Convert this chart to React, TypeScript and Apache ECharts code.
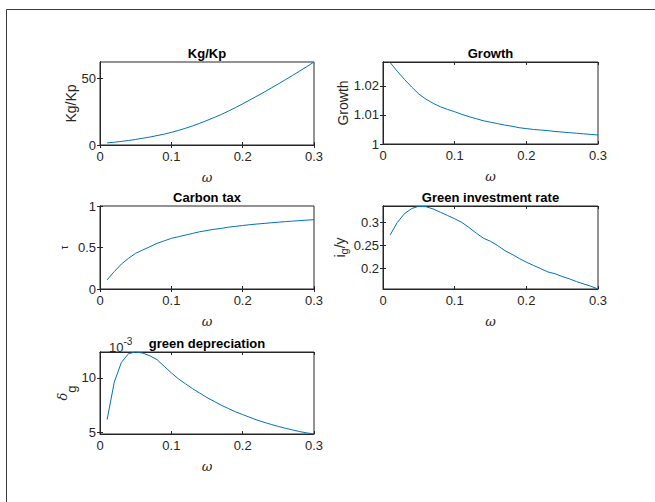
import React, { useEffect, useRef } from "react";
import * as echarts from "echarts";

const omega = [
  0.01, 0.02, 0.03, 0.04, 0.05, 0.06, 0.07, 0.08, 0.09, 0.1,
  0.11, 0.12, 0.13, 0.14, 0.15, 0.16, 0.17, 0.18, 0.19, 0.2,
  0.21, 0.22, 0.23, 0.24, 0.25, 0.26, 0.27, 0.28, 0.29, 0.3,
];

const kgKp = [
  1.6, 2.1, 2.7, 3.4, 4.2, 5.1, 6.0, 7.1, 8.2, 9.5,
  11.0, 12.6, 14.4, 16.4, 18.5, 20.7, 23.0, 25.5, 28.2, 31.0,
  33.9, 36.8, 39.8, 42.9, 46.0, 49.2, 52.4, 55.7, 59.0, 62.5,
];

const growth = [
  1.028, 1.025, 1.0222, 1.0196, 1.0172, 1.0154, 1.014, 1.0128, 1.0119, 1.0111,
  1.0102, 1.0094, 1.0087, 1.008, 1.0075, 1.007, 1.0065, 1.0061, 1.0056, 1.0053,
  1.005, 1.0048, 1.0046, 1.0043, 1.0041, 1.0039, 1.0037, 1.0035, 1.0033, 1.0031,
];

const carbonTax = [
  0.11, 0.21, 0.3, 0.37, 0.43, 0.47, 0.51, 0.55, 0.58, 0.61,
  0.63, 0.65, 0.67, 0.69, 0.705, 0.72, 0.73, 0.745, 0.755, 0.765,
  0.775, 0.783, 0.79, 0.798, 0.805, 0.812, 0.818, 0.824, 0.83, 0.835,
];

const greenInvestmentRate = [
  0.273, 0.3, 0.319, 0.33, 0.335, 0.334, 0.329, 0.322, 0.315, 0.308,
  0.3, 0.289, 0.277, 0.266, 0.259, 0.25, 0.239, 0.231, 0.222, 0.214,
  0.207, 0.2, 0.193, 0.189, 0.183, 0.178, 0.172, 0.167, 0.162, 0.156,
];

const greenDepreciation = [
  0.0062, 0.0096, 0.0114, 0.0122, 0.01235, 0.01225, 0.012, 0.01165, 0.01105, 0.01045,
  0.0099, 0.00945, 0.009, 0.0086, 0.0082, 0.00785, 0.0075, 0.0072, 0.0069, 0.00665,
  0.0064, 0.00615, 0.00595, 0.00575, 0.00557, 0.0054, 0.00525, 0.0051, 0.00498, 0.00488,
];

const xTickLabels = ["0", "0.1", "0.2", "0.3"];
const kgTicks = [0, 50];
const growthTicks = [1, 1.01, 1.02];
const taxTicks = [0, 0.5, 1];
const invTicks = [0.2, 0.25, 0.3];
const depTicks = [0.005, 0.01];

const AX = "#262626";
const FONT = "'Liberation Sans', Arial, Helvetica, sans-serif";

type Panel = {
  title: string;
  values: number[];
  grid: { left: number; top: number; width: number; height: number };
  ymin: number;
  ymax: number;
  ticks: number[];
  fmt: (v: number) => string;
  yName: string;
  yGap: number;
  yFont: number;
  rich?: any;
};

export default function App() {
  const ref = useRef<HTMLDivElement>(null);

  useEffect(() => {
    if (!ref.current) return;
    const chart = echarts.init(ref.current, undefined, { renderer: "svg" });

    const panels: Panel[] = [
      {
        title: "Kg/Kp",
        values: kgKp,
        grid: { left: 100, top: 62, width: 214, height: 83 },
        ymin: 0,
        ymax: 62.5,
        ticks: kgTicks,
        fmt: (v) => String(v),
        yName: "Kg/Kp",
        yGap: 21,
        yFont: 14,
      },
      {
        title: "Growth",
        values: growth,
        grid: { left: 383, top: 62, width: 215, height: 82 },
        ymin: 1,
        ymax: 1.0282,
        ticks: growthTicks,
        fmt: (v) => (v === 1 ? "1" : v.toFixed(2)),
        yName: "Growth",
        yGap: 33,
        yFont: 14,
      },
      {
        title: "Carbon tax",
        values: carbonTax,
        grid: { left: 100, top: 206, width: 214, height: 83 },
        ymin: 0,
        ymax: 1,
        ticks: taxTicks,
        fmt: (v) => String(v),
        yName: "τ",
        yGap: 31,
        yFont: 10,
      },
      {
        title: "Green investment rate",
        values: greenInvestmentRate,
        grid: { left: 383, top: 206, width: 215, height: 83 },
        ymin: 0.156,
        ymax: 0.3355,
        ticks: invTicks,
        fmt: (v) => String(v),
        yName: "{a|i}{s|g}{a|/y}",
        yGap: 34,
        yFont: 14,
        rich: {
          a: { fontSize: 14, fontFamily: FONT, color: AX, lineHeight: 19, verticalAlign: "middle" },
          s: { fontSize: 11, fontFamily: FONT, color: AX, lineHeight: 11, verticalAlign: "bottom" },
        },
      },
      {
        title: "green depreciation",
        values: greenDepreciation,
        grid: { left: 100, top: 352, width: 214, height: 82 },
        ymin: 0.00488,
        ymax: 0.01235,
        ticks: depTicks,
        fmt: (v) => String(Math.round(v * 1000)),
        yName: "{d|δ}{s|g}",
        yGap: 22,
        yFont: 14,
        rich: {
          d: { fontSize: 13, fontFamily: "'DejaVu Serif', serif", fontStyle: "italic", color: AX, lineHeight: 22, verticalAlign: "top" },
          s: { fontSize: 13, fontFamily: FONT, color: AX, lineHeight: 13, verticalAlign: "bottom" },
        },
      },
    ];

    const grids: any[] = [];
    const xAxes: any[] = [];
    const yAxes: any[] = [];
    const series: any[] = [];
    const graphics: any[] = [];

    graphics.push({
      type: "line",
      shape: { x1: 6.5, y1: 9.5, x2: 655, y2: 9.5 },
      style: { stroke: "#3a3a3a", lineWidth: 1 },
      silent: true,
      z: 100,
    });
    graphics.push({
      type: "line",
      shape: { x1: 6.5, y1: 9.5, x2: 6.5, y2: 502 },
      style: { stroke: "#3a3a3a", lineWidth: 1 },
      silent: true,
      z: 100,
    });

    panels.forEach((p, i) => {
      grids.push({
        ...p.grid,
        show: true,
        borderColor: AX,
        borderWidth: 1,
        backgroundColor: "#fff",
        containLabel: false,
      });
      const common = {
        type: "value",
        gridIndex: i,
        axisLine: { show: true, lineStyle: { color: AX, width: 1 } },
        splitLine: { show: false },
      };
      xAxes.push({
        ...common,
        position: "bottom",
        min: 0,
        max: 0.3,
        interval: 0.1,
        axisTick: { show: true, inside: true, length: 3, lineStyle: { color: AX } },
        axisLabel: {
          show: true,
          color: AX,
          fontSize: 13,
          fontFamily: FONT,
          margin: 5,
          formatter: (v: number) => xTickLabels[Math.round(v * 10)] ?? "",
        },
        name: "ω",
        nameLocation: "middle",
        nameGap: 26,
        nameTextStyle: {
          color: AX,
          fontSize: 13,
          fontStyle: "italic",
          fontFamily: "'DejaVu Serif', 'Liberation Serif', serif",
        },
      });
      xAxes.push({
        ...common,
        position: "top",
        min: 0,
        max: 0.3,
        interval: 0.1,
        axisTick: { show: true, inside: true, length: 3, lineStyle: { color: AX } },
        axisLabel: { show: false },
      });
      yAxes.push({
        ...common,
        position: "left",
        min: p.ymin,
        max: p.ymax,
        axisTick: { show: true, inside: true, length: 3, lineStyle: { color: AX }, customValues: p.ticks },
        axisLabel: {
          show: true,
          color: AX,
          fontSize: 13,
          fontFamily: FONT,
          margin: 4,
          customValues: p.ticks,
          formatter: (v: number) => p.fmt(v),
        },
        name: p.yName,
        nameLocation: "middle",
        nameRotate: 90,
        nameGap: p.yGap,
        nameTextStyle: {
          color: AX,
          fontSize: p.yFont,
          fontFamily: FONT,
          rich: p.rich,
        },
      });
      yAxes.push({
        ...common,
        position: "right",
        min: p.ymin,
        max: p.ymax,
        axisTick: { show: true, inside: true, length: 3, lineStyle: { color: AX }, customValues: p.ticks },
        axisLabel: { show: false },
      });
      series.push({
        type: "line",
        xAxisIndex: 2 * i,
        yAxisIndex: 2 * i,
        data: omega.map((x, k) => [x, p.values[k]]),
        showSymbol: false,
        symbol: "none",
        lineStyle: { color: "#0072BD", width: 1 },
        clip: true,
      });
      graphics.push({
        type: "text",
        x: p.grid.left + p.grid.width / 2,
        y: p.grid.top - 9,
        style: {
          text: p.title,
          fill: "#000",
          font: `bold 13px ${FONT}`,
          align: "center",
          verticalAlign: "middle",
        },
        z: 50,
      });
    });

    graphics.push({
      type: "text",
      x: 109,
      y: 345,
      style: {
        text: "{a|10}{b|-3}",
        align: "left",
        verticalAlign: "middle",
        rich: {
          a: { fontSize: 13, fontFamily: FONT, fill: AX, lineHeight: 17, verticalAlign: "bottom" },
          b: { fontSize: 10, fontFamily: FONT, fill: AX, lineHeight: 10, verticalAlign: "top" },
        },
      },
      z: 50,
    });

    chart.setOption({
      animation: false,
      backgroundColor: "#fff",
      grid: grids,
      xAxis: xAxes,
      yAxis: yAxes,
      series,
      graphic: graphics,
    });

    return () => chart.dispose();
  }, []);

  return (
    <div
      ref={ref}
      style={{ position: "absolute", left: 0, top: 0, width: 655, height: 502, background: "#fff" }}
    />
  );
}
